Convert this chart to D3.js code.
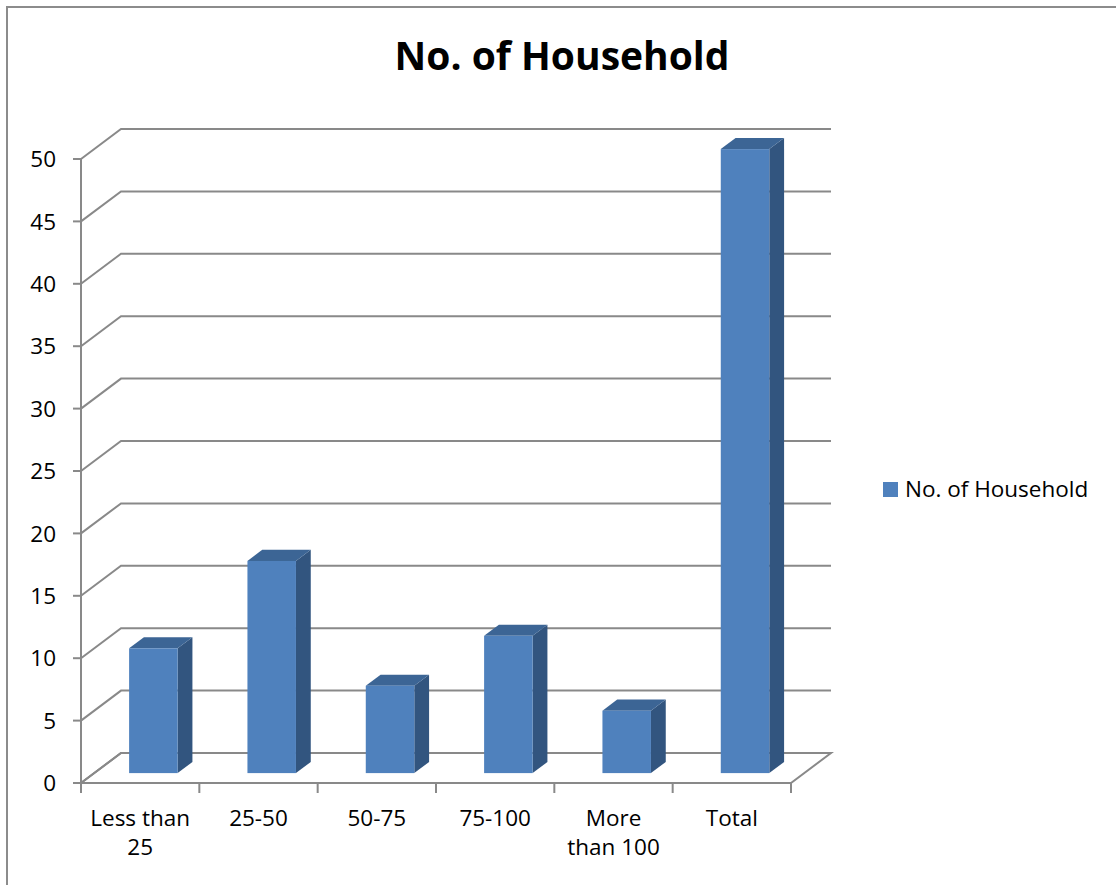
<!DOCTYPE html>
<html><head><meta charset="utf-8">
<script src="https://cdn.jsdelivr.net/npm/d3@7"></script>
<style>html,body{margin:0;padding:0;background:#fff;}svg{display:block;}</style>
</head><body>
<script>
const categories = ["Less than 25", "25-50", "50-75", "75-100", "More than 100", "Total"];
const categoryLines = [["Less than", "25"], ["25-50"], ["50-75"], ["75-100"], ["More", "than 100"], ["Total"]];
const values = [10, 17, 7, 11, 5, 50];
const yTicks = [0, 5, 10, 15, 20, 25, 30, 35, 40, 45, 50];
const seriesName = "No. of Household";
const title = "No. of Household";

const W = 1116, H = 885;
const font = "'Open Sans', sans-serif";
const svg = d3.select("body").append("svg").attr("width", W).attr("height", H);

// outer chart border
svg.append("rect").attr("x", 7).attr("y", 7).attr("width", W + 20).attr("height", H + 20)
  .attr("fill", "#fff").attr("stroke", "#8c8c8c").attr("stroke-width", 2);

const x = d3.scaleBand().domain(categories).range([81, 791]).padding(0);
const y = d3.scaleLinear().domain([0, 50]).range([783, 159]);
const DX = 40, DY = -30;
const proj = (px, py, d) => [px + DX * d, py + DY * d];
const gridColor = "#898989";

// floor
const f0 = proj(81, y(0), 0), f1 = proj(791, y(0), 0), f2 = proj(791, y(0), 1), f3 = proj(81, y(0), 1);
svg.append("path").attr("d", `M${f0}L${f1}L${f2}L${f3}Z`)
  .attr("fill", "none").attr("stroke", gridColor).attr("stroke-width", 2);

// gridlines: side wall diagonal + back wall horizontal
yTicks.forEach(t => {
  const a = proj(81, y(t), 0), b = proj(81, y(t), 1), c = proj(791, y(t), 1);
  svg.append("path").attr("d", `M${a}L${b}L${c}`)
    .attr("fill", "none").attr("stroke", gridColor).attr("stroke-width", 2);
});

// y axis line and ticks
svg.append("line").attr("x1", 81).attr("x2", 81).attr("y1", y(50)).attr("y2", y(0))
  .attr("stroke", gridColor).attr("stroke-width", 2);
yTicks.forEach(t => {
  svg.append("line").attr("x1", 73).attr("x2", 81).attr("y1", y(t)).attr("y2", y(t))
    .attr("stroke", gridColor).attr("stroke-width", 2);
  svg.append("text").attr("x", 56).attr("y", y(t)).attr("dy", "0.36em")
    .attr("text-anchor", "end").attr("font-family", font).attr("font-size", 22.5)
    .attr("fill", "#000").text(t);
});

// x axis ticks
const edges = categories.map(c => x(c)).concat([x.range()[1]]);
edges.forEach(e => {
  svg.append("line").attr("x1", e).attr("x2", e).attr("y1", y(0)).attr("y2", y(0) + 10)
    .attr("stroke", gridColor).attr("stroke-width", 2);
});

// bars
const d0 = 0.33, d1 = 0.70;
const barW = x.bandwidth() * 0.41;
categories.forEach((c, i) => {
  const v = values[i];
  const xl = x(c) + (x.bandwidth() - barW) / 2;
  const xr = xl + barW;
  const [ax, ay] = proj(xl, y(v), d0), [bx, by] = proj(xr, y(v), d0);
  const [, b0y] = proj(xl, y(0), d0);
  const [cx, cy] = proj(xr, y(v), d1), [dx2, dy2] = proj(xl, y(v), d1);
  const [ex, ey] = proj(xr, y(0), d1);
  svg.append("path").attr("d", `M${bx},${by}L${cx},${cy}L${ex},${ey}L${bx},${b0y}Z`)
    .attr("fill", "#32557F");
  svg.append("path").attr("d", `M${ax},${ay}L${bx},${by}L${cx},${cy}L${dx2},${dy2}Z`)
    .attr("fill", "#3C6595");
  svg.append("rect").attr("x", ax).attr("y", ay).attr("width", barW).attr("height", b0y - ay)
    .attr("fill", "#4F81BD");
});

// category labels
categories.forEach((c, i) => {
  const cxm = x(c) + x.bandwidth() / 2;
  categoryLines[i].forEach((ln, j) => {
    svg.append("text").attr("x", cxm).attr("y", 826 + j * 29)
      .attr("text-anchor", "middle").attr("font-family", font).attr("font-size", 22.5)
      .attr("fill", "#000").text(ln);
  });
});

// title
svg.append("text").attr("x", 562).attr("y", 70).attr("text-anchor", "middle")
  .attr("font-family", font).attr("font-size", 39).attr("font-weight", "bold")
  .attr("fill", "#000").text(title);

// legend
svg.append("rect").attr("x", 883).attr("y", 482).attr("width", 15).attr("height", 15).attr("fill", "#4F81BD");
svg.append("text").attr("x", 905).attr("y", 497).attr("font-family", font).attr("font-size", 22.5)
  .attr("fill", "#000").text(seriesName);
</script>
</body></html>
